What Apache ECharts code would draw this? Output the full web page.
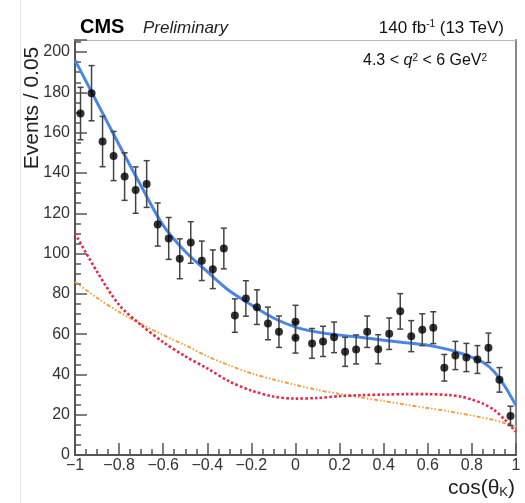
<!DOCTYPE html>
<html><head><meta charset="utf-8">
<script src="https://cdn.jsdelivr.net/npm/echarts@6/dist/echarts.min.js"></script>
<style>html,body{margin:0;padding:0;background:#fff}#c{width:525px;height:503px}</style>
</head><body><div id="c"></div>
<script>
// ---- data ----
const binCenters = [-0.975,-0.925,-0.875,-0.825,-0.775,-0.725,-0.675,-0.625,-0.575,-0.525,
  -0.475,-0.425,-0.375,-0.325,-0.275,-0.225,-0.175,-0.125,-0.075,0.0,
  0.0,0.075,0.125,0.175,0.225,0.275,0.325,0.375,0.425,0.475,
  0.525,0.575,0.625,0.675,0.725,0.775,0.825,0.875,0.925,0.975];
const events = [169.5,179.6,155.6,148.4,138.2,131.5,134.5,114.4,107.5,97.4,
  105.5,96.4,92.2,102.5,69.2,77.7,73.4,65.3,61.2,66.2,
  58.2,55.4,56.4,58.4,51.2,52.4,61.2,52.5,60.2,71.3,
  59.0,62.2,63.2,43.3,49.4,48.4,47.4,53.2,37.3,19.4];
const errors = [13.0,13.7,12.5,12.2,11.8,11.5,11.6,10.7,10.4,9.9,
  10.3,9.8,9.6,10.1,8.3,8.8,8.6,8.1,7.8,8.1,
  7.6,7.4,7.5,7.6,7.2,7.2,7.8,7.2,7.8,8.8,
  7.7,7.9,7.9,6.6,7.0,7.0,6.9,7.3,6.1,4.8];
const curveX   = [-1.0,-0.9,-0.8,-0.7,-0.6,-0.5,-0.4,-0.3,-0.2,-0.1,0.0,0.1,0.2,0.3,0.4,0.5,0.6,0.7,0.75,0.8,0.85,0.9,0.95,1.0];
const totalFit = [196,175,154,133.5,114,101,91,81.5,74.5,68,63.5,61,59.5,58.3,57,55.7,54.5,52.2,50.5,48.5,46,41.5,34,24.5];
const signal   = [110,91,74.5,64.5,56,49,43,36.5,32,29,28,28.3,29.2,29.7,30,30.2,30.2,29.7,29,27.5,25.5,22.4,17.5,11.5];
const background=[86,78,71,65,59.5,54.5,49,44.5,40.5,37.5,34.8,32.3,30.3,28.5,26.8,25,23.3,21.6,20.6,19.6,18.5,17.4,15.8,14];
const xTickValues = [-1,-0.8,-0.6,-0.4,-0.2,0,0.2,0.4,0.6,0.8,1];
const yTickValues = [0,20,40,60,80,100,120,140,160,180,200];

const FONT = '"Liberation Sans", Arial, Helvetica, sans-serif';
const AX = '#555';
const chart = echarts.init(document.getElementById('c'));
function fmtX(v){ const r = Math.round(v*10)/10; return String(r).replace('-', '\u2212'); }
function pairs(xs, ys){ return xs.map((x,i)=>[x, ys[i]]); }

const option = {
  animation:false,
  grid:{left:75,right:9,top:40,bottom:48},
  xAxis:[{
    type:'value', min:-1, max:1, interval:0.2,
    axisLine:{onZero:false, lineStyle:{color:AX,width:2}},
    axisTick:{inside:true,length:12,lineStyle:{color:AX,width:1.5}},
    minorTick:{show:true,splitNumber:4,length:6,lineStyle:{color:AX,width:1.5}},
    splitLine:{show:false},
    axisLabel:{color:'#333',fontSize:16,fontFamily:FONT,margin:3,
      formatter:v=> xTickValues.some(t=>Math.abs(t-v)<1e-6)? fmtX(v):''}
  },{
    type:'value', position:'top', min:-1, max:1,
    axisLine:{show:true,onZero:false,lineStyle:{color:'#bbb',width:1}},
    axisTick:{show:false}, axisLabel:{show:false}, splitLine:{show:false}
  }],
  yAxis:[{
    type:'value', min:0, max:206, interval:20,
    axisLine:{show:true,onZero:false,lineStyle:{color:AX,width:2}},
    axisTick:{show:true,inside:true,length:12,lineStyle:{color:AX,width:1.5}},
    minorTick:{show:true,splitNumber:4,length:6,lineStyle:{color:AX,width:1.5}},
    splitLine:{show:false},
    axisLabel:{color:'#333',fontSize:16,fontFamily:FONT,margin:5,showMaxLabel:false,
      formatter:v=> yTickValues.indexOf(Math.round(v))>=0 && Math.abs(v-Math.round(v))<1e-6 ? String(Math.round(v)):''}
  },{
    type:'value', position:'right', min:0, max:206,
    axisLine:{show:true,onZero:false,lineStyle:{color:'#888',width:2}},
    axisTick:{show:false}, axisLabel:{show:false}, splitLine:{show:false}
  }],
  series:[
    {type:'line', data:pairs(curveX, background), smooth:0.3, showSymbol:false, symbol:'none',
      lineStyle:{color:'#f2a23a', width:2, type:[4,2,1.5,2,1.5,2]}, z:2},
    {type:'line', data:pairs(curveX, signal), smooth:0.3, showSymbol:false, symbol:'none',
      lineStyle:{color:'#e8294a', width:2.6, type:[2.6,2.2]}, z:2},
    {type:'line', data:pairs(curveX, totalFit), smooth:0.3, showSymbol:false, symbol:'none',
      lineStyle:{color:'#4a86e8', width:3}, z:3},
    {type:'custom', z:4,
      data: binCenters.map((x,i)=>[x, events[i], errors[i]]),
      renderItem:(params, api)=>{
        const x=api.value(0), y=api.value(1), e=api.value(2);
        const t=api.coord([x,y+e]), b=api.coord([x,y-e]);
        const cx=t[0], hw=3;
        const st={stroke:'#444', lineWidth:1.5};
        return {type:'group', children:[
          {type:'line', shape:{x1:cx,y1:t[1],x2:cx,y2:b[1]}, style:st},
          {type:'line', shape:{x1:cx-hw,y1:t[1],x2:cx+hw,y2:t[1]}, style:st},
          {type:'line', shape:{x1:cx-hw,y1:b[1],x2:cx+hw,y2:b[1]}, style:st}
        ]};
      }},
    {type:'scatter', data:pairs(binCenters, events), symbol:'circle', symbolSize:8,
      itemStyle:{color:'#000'}, z:5}
  ],
  graphic:[
    {type:'line', shape:{x1:20.5,y1:0,x2:20.5,y2:503}, style:{stroke:'#e6e6e6', lineWidth:1}},
    {type:'text', x:80, y:27, style:{text:'CMS', font:'bold 20px '+FONT, fill:'#000', align:'left', verticalAlign:'middle'}},
    {type:'text', x:143, y:28, style:{text:'Preliminary', font:'italic 17px '+FONT, fill:'#222', align:'left', verticalAlign:'middle'}},
    {type:'text', x:504, y:28, style:{text:'140 fb{sup|-1} (13 TeV)', font:'17px '+FONT, fill:'#111', align:'right', verticalAlign:'middle',
      rich:{sup:{fontSize:10, fontFamily:FONT, verticalAlign:'top', fill:'#111'}}}},
    {type:'text', x:363, y:61, style:{text:'4.3 < {it|q}{sup|2} < 6 GeV{sup|2}', font:'16px '+FONT, fill:'#111', align:'left', verticalAlign:'middle',
      rich:{it:{fontStyle:'italic', fontSize:16, fontFamily:FONT, fill:'#111'}, sup:{fontSize:10, fontFamily:FONT, verticalAlign:'top', fill:'#111'}}}},
    {type:'text', x:32, y:108, rotation:Math.PI/2, style:{text:'Events / 0.05', font:'21px '+FONT, fill:'#222', align:'center', verticalAlign:'middle'}},
    {type:'text', x:515, y:488, style:{text:'cos(θ{sub|K})', font:'21px '+FONT, fill:'#222', align:'right', verticalAlign:'middle',
      rich:{sub:{fontSize:13, fontFamily:FONT, verticalAlign:'bottom', fill:'#222'}}}}
  ]
};
chart.setOption(option);
</script>
</body></html>
